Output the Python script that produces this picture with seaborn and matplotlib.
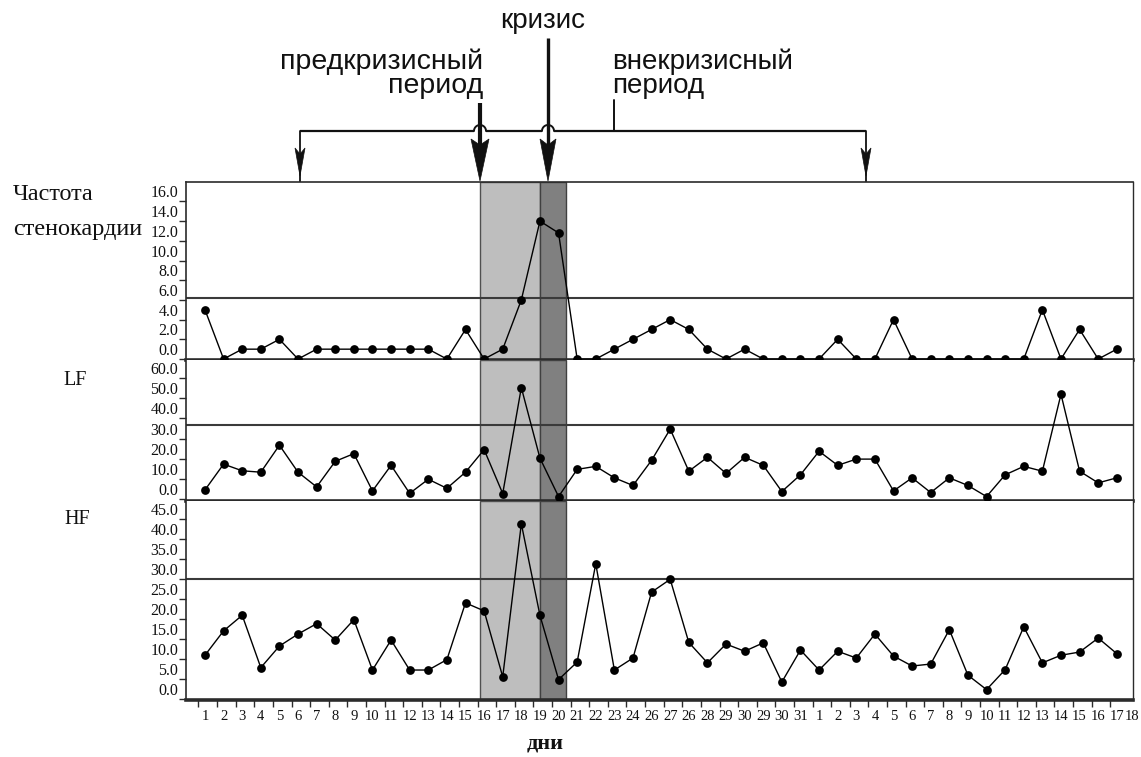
import numpy as np
import pandas as pd
import matplotlib
matplotlib.use('Agg')
import matplotlib.pyplot as plt
import seaborn as sns
from matplotlib.patches import Polygon

# ---------------- data ----------------
day_labels = [str(d) for d in range(1, 25)] + ['26', '27', '26', '28', '29', '30', '29', '30', '31'] + \
             [str(d) for d in range(1, 18)]

angina = [5, 0, 1, 1, 2, 0, 1, 1, 1, 1, 1, 1, 1, 0, 3, 0, 1, 6, 14, 12.8,
          0, 0, 1, 2, 3, 4, 3, 1, 0, 1, 0, 0, 0, 0, 2, 0, 0, 4, 0, 0,
          0, 0, 0, 0, 0, 5, 0, 3, 0, 1]
lf = [4.5, 17.3, 14, 13.3, 26.7, 13.3, 6, 18.7, 22.5, 4, 16.7, 2.8, 9.8, 5.3, 13.3, 24.5, 2.7, 55.3, 20.3, 1.2,
      14.7, 16.2, 10.5, 6.7, 19.2, 34.7, 13.8, 20.7, 12.7, 20.7, 16.7, 3.7, 12, 23.7, 16.7, 19.8, 19.8, 4, 10.5, 3.2,
      10.5, 6.7, 1.2, 12, 16.2, 13.8, 52, 13.8, 8, 10.5]
hf = [11, 17.1, 21, 7.9, 13.3, 16.3, 18.9, 14.8, 19.9, 7.3, 14.8, 7.3, 7.3, 9.9, 24.1, 22.1, 5.6, 43.9, 21, 4.9,
      9.3, 33.9, 7.3, 10.3, 26.8, 30, 14.2, 9.1, 13.8, 12, 14.1, 4.3, 12.3, 7.3, 12, 10.3, 16.3, 10.8, 8.3, 8.8,
      17.4, 6, 2.4, 7.4, 18.1, 9.1, 11, 11.8, 15.3, 11.4]

thresholds = [6.2, 36.7, 30.0]
panel_names = ['angina', 'lf', 'hf']
yticks = [list(range(0, 17, 2)), list(range(0, 61, 10)), list(range(0, 46, 5))]
ylims = [(-0.1, 18.0), (-1.0, 69.0), (-0.2, 49.6)]
pre_crisis_span = (14.8, 18.0)
crisis_span = (18.0, 19.4)

df = pd.DataFrame({'idx': np.arange(len(day_labels)), 'angina': angina, 'lf': lf, 'hf': hf})

# ---------------- figure ----------------
sns.set_theme(style='white')
plt.rcParams['font.family'] = ['Liberation Serif', 'DejaVu Serif']
W, H = 1141, 757
fig = plt.figure(figsize=(W / 100, H / 100), dpi=100)
fig.patch.set_facecolor('white')


def fx(x):
    return x / W


def fy(y):
    return 1 - y / H


left_px, right_px = 186, 1133
panels_px = [(181.7, 360), (360, 501), (501, 700)]
axes = []
for (top, bot) in panels_px:
    ax = fig.add_axes([fx(left_px), fy(bot), fx(right_px - left_px), (bot - top) / H])
    axes.append(ax)

frame_col = '#2b2b2b'
xlim = (-1.02, 49.87)
for i, ax in enumerate(axes):
    ax.set_facecolor('white')
    ax.axvspan(*pre_crisis_span, facecolor='#bebebe', edgecolor='#505050', lw=1.0, zorder=0)
    ax.axvspan(*crisis_span, facecolor='#808080', edgecolor='#404040', lw=1.0, zorder=0)
    ax.axhline(thresholds[i], color='#3a3a3a', lw=1.5, zorder=1)
    sns.lineplot(data=df, x='idx', y=panel_names[i], ax=ax, color='black', lw=1.0,
                 marker='o', markersize=6.3, markeredgewidth=0, markeredgecolor='black', zorder=5)
    ax.set_xlim(*xlim)
    ax.set_ylim(*ylims[i])
    ax.set_xlabel('')
    ax.set_ylabel('')
    ax.set_yticks(yticks[i])
    ax.set_yticklabels([f'{v:.1f}' for v in yticks[i]])
    ax.tick_params(axis='y', direction='out', length=5, width=1, pad=0.5, labelsize=11.5,
                   colors=frame_col, left=True)
    for t in ax.get_yticklabels():
        t.set_verticalalignment('bottom')
        t.set_color('#111111')
    for s in ['left', 'right', 'top', 'bottom']:
        ax.spines[s].set_color(frame_col)
    ax.spines['left'].set_linewidth(1.2)
    ax.spines['right'].set_linewidth(1.0)
    ax.spines['bottom'].set_linewidth(2.6)
    if i == 0:
        ax.spines['top'].set_linewidth(1.2)
    else:
        ax.spines['top'].set_visible(False)
    if i < 2:
        ax.set_xticks([])

# x ticks on bottom panel
ax = axes[2]
ax.set_xticks(df['idx'])
ax.set_xticklabels(day_labels)
ax.set_xticks(df['idx'] - 0.35, minor=True)
ax.tick_params(axis='x', which='major', length=0, pad=7, labelsize=10.5, labelcolor='#111111', bottom=True)
ax.tick_params(axis='x', which='minor', direction='out', length=5, width=1, color=frame_col, bottom=True)
ax.text(49.83, -0.052, '18', transform=ax.get_xaxis_transform(), ha='center', va='top',
        fontsize=10.5, color='#111111', clip_on=False)

# left labels
fig.text(fx(13), fy(195), 'Частота', ha='left', va='center', fontsize=17.5, color='#111111')
fig.text(fx(13), fy(229), 'стенокардии', ha='left', va='center', fontsize=17.5, color='#111111')
fig.text(fx(75), fy(381), 'LF', ha='center', va='center', fontsize=14.5, color='#111111')
fig.text(fx(77), fy(520), 'HF', ha='center', va='center', fontsize=14.5, color='#111111')
fig.text(fx(545), fy(744), 'дни', ha='center', va='center', fontsize=16, fontweight='bold', color='#111111')

# ---------------- annotation overlay ----------------
ov = fig.add_axes([0, 0, 1, 1], facecolor='none', zorder=10)
ov.set_xlim(0, W)
ov.set_ylim(H, 0)
ov.axis('off')

sans = ['Liberation Sans', 'DejaVu Sans']
ov.text(543, 21, 'кризис', ha='center', va='center', fontsize=20, family=sans, color='#111111')
ov.text(483, 62, 'предкризисный', ha='right', va='center', fontsize=20.5, family=sans, color='#111111')
ov.text(483, 86, 'период', ha='right', va='center', fontsize=20.5, family=sans, color='#111111')
ov.text(612, 62, 'внекризисный', ha='left', va='center', fontsize=20, family=sans, color='#111111')
ov.text(612, 86, 'период', ha='left', va='center', fontsize=20, family=sans, color='#111111')

lc = '#111111'
yb = 131
r = 6
hops = [480, 548]
# bracket with hops
segs_x = [300] + sum([[h - r, h + r] for h in hops], []) + [866]
for a, b in zip(segs_x[0::2], segs_x[1::2]):
    ov.plot([a, b], [yb, yb], color=lc, lw=1.6, solid_capstyle='butt')
for h in hops:
    t = np.linspace(np.pi, 0, 30)
    ov.plot(h + r * np.cos(t), yb - r * np.sin(t), color=lc, lw=1.4)
# leader line from "внекризисный период"
ov.plot([614, 614], [100, yb], color=lc, lw=1.4)


def barbed_head(x, tip, w, length, notch):
    return Polygon([(x, tip), (x - w / 2, tip - length), (x, tip - length + notch),
                    (x + w / 2, tip - length)], closed=True, facecolor=lc, edgecolor=lc, lw=0.5)


# small side arrows
for x in [300, 866]:
    ov.plot([x, x], [yb, 181], color=lc, lw=1.3)
    ov.add_patch(barbed_head(x, 176, 10, 28, 6))

# thick arrows
ov.plot([480, 480], [103, 150], color=lc, lw=3.0, solid_capstyle='butt')
ov.add_patch(barbed_head(480, 181, 18, 42, 6))
ov.plot([548, 548], [38, 150], color=lc, lw=2.4, solid_capstyle='butt')
ov.add_patch(barbed_head(548, 181, 16, 42, 6))

fig.savefig('out.png', dpi=100, facecolor='white')
